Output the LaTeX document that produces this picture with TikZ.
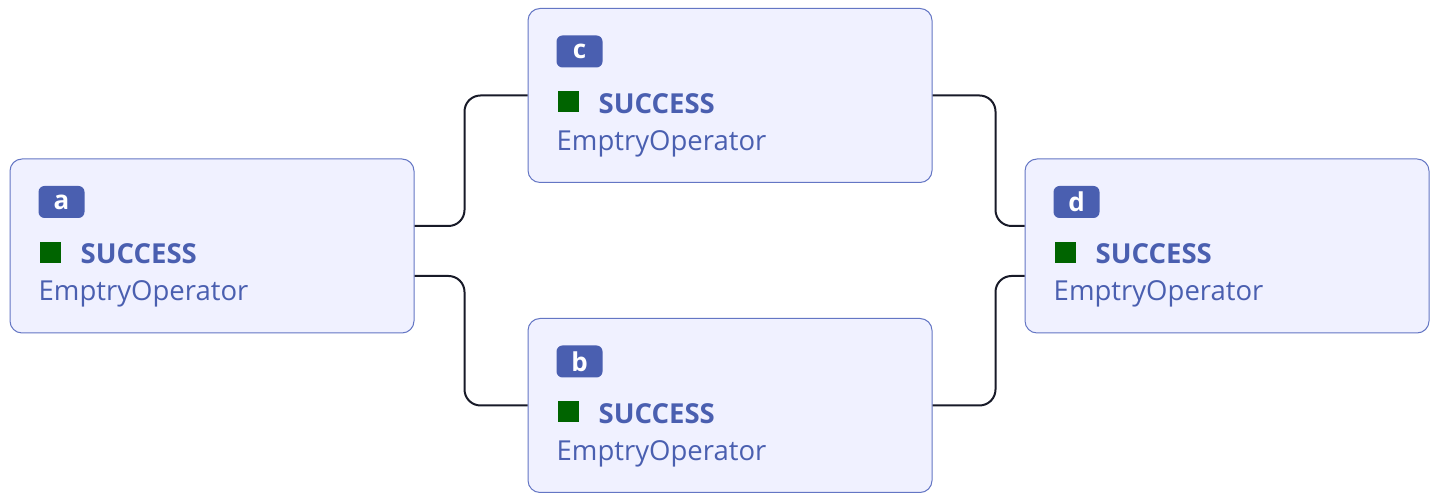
\documentclass[tikz,border=0pt]{standalone}
\usepackage{fontspec}
\setmainfont{Open Sans}
\usetikzlibrary{calc}
\definecolor{boxfill}{RGB}{240,241,255}
\definecolor{boxline}{RGB}{100,118,196}
\definecolor{txt}{RGB}{74,95,176}
\definecolor{okgreen}{RGB}{0,100,0}
\definecolor{edgec}{RGB}{24,26,40}
\tikzset{
  box/.style={draw=boxline, line width=1pt, fill=boxfill, rounded corners=12pt, minimum width=404pt, minimum height=174pt, inner sep=0pt},
  badge/.style={fill=txt, rounded corners=6pt, minimum width=46pt, minimum height=32pt, inner sep=0pt, text=white, font=\fontsize{26}{30}\selectfont\bfseries},
  sq/.style={fill=okgreen, minimum size=21pt, inner sep=0pt},
  statetxt/.style={inner sep=0pt, anchor=base west, text=txt, font=\fontsize{27.5}{32}\selectfont\bfseries},
  optxt/.style={inner sep=0pt, anchor=base west, text=txt, font=\fontsize{27.5}{32}\selectfont},
  edge/.style={draw=edgec, line width=2pt, rounded corners=16pt}
}
\newcommand\taskbox[3]{%
  \node[box] (#1) at (#2) {};
  \node[badge] (#1-id) at ([shift={(52,-43.5)}]#1.north west) {#3};
  \node[sq] (#1-sq) at ([shift={(40.5,-94)}]#1.north west) {};
  \node[statetxt] (#1-st) at ([shift={(71,-105.5)}]#1.north west) {SUCCESS};
  \node[optxt] (#1-op) at ([shift={(29,-142.5)}]#1.north west) {EmptryOperator};
}
\begin{document}
\begin{tikzpicture}[x=1pt,y=1pt]
\useasboundingbox (0,0) rectangle (1437,502);
\fill[white] (0,0) rectangle (1437,502);
\taskbox{a}{212,256}{a}
\taskbox{c}{730,406.5}{c}
\taskbox{b}{730,96.5}{b}
\taskbox{d}{1227,256}{d}
\draw[edge] ($(a.east)+(0,20)$) -- ++(50,0) |- (c.west);
\draw[edge] ($(a.east)+(0,-30)$) -- ++(50,0) |- (b.west);
\draw[edge] (c.east) -- ++(63,0) |- ($(d.west)+(0,20)$);
\draw[edge] (b.east) -- ++(63,0) |- ($(d.west)+(0,-30)$);
\end{tikzpicture}
\end{document}
